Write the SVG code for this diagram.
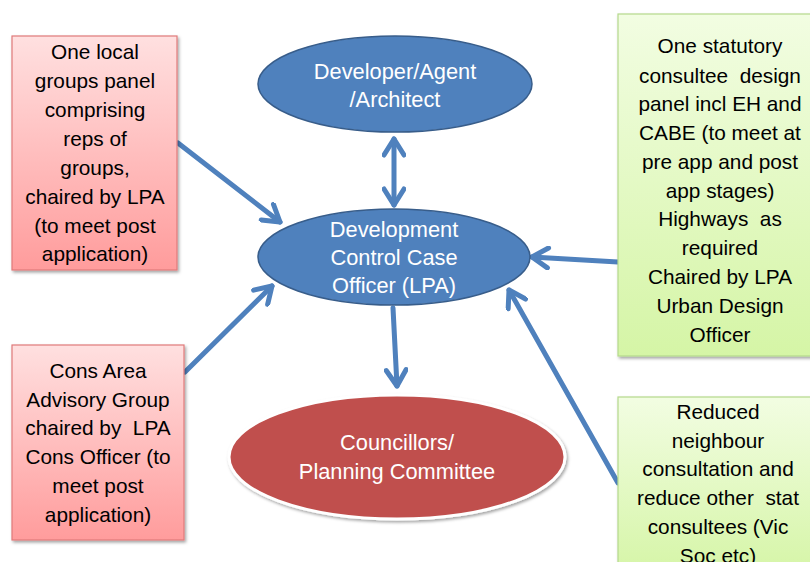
<svg xmlns="http://www.w3.org/2000/svg" width="810" height="562" viewBox="0 0 810 562">
<style>
.t{font-family:"Liberation Sans",Arial,sans-serif;font-size:20.8px;fill:#000;text-anchor:middle;white-space:pre}
.w{font-family:"Liberation Sans",Arial,sans-serif;font-size:21.8px;fill:#fff;text-anchor:middle}
.pink{fill:url(#gp);stroke:#E07A7A;stroke-width:1.2;filter:url(#sh)}
.green{fill:url(#gg);stroke:#B5D98C;stroke-width:1.2;filter:url(#sh)}
.blue{fill:#4F81BD;stroke:#385D8A;stroke-width:1.5}
.con{stroke:#4F81BD;stroke-width:5;fill:none;stroke-linecap:round}
</style>
<defs>
<linearGradient id="gp" x1="0" y1="0" x2="0" y2="1"><stop offset="0" stop-color="#FFE0E0"/><stop offset="1" stop-color="#FF9C9C"/></linearGradient>
<linearGradient id="gg" x1="0" y1="0" x2="0" y2="1"><stop offset="0" stop-color="#F2FDE2"/><stop offset="1" stop-color="#D5F5A6"/></linearGradient>
<filter id="sh" x="-10%" y="-10%" width="125%" height="125%"><feDropShadow dx="1.5" dy="2" stdDeviation="1.5" flood-color="#000" flood-opacity="0.35"/></filter>
<marker id="ah" viewBox="0 0 24 24" refX="21" refY="12" markerWidth="24" markerHeight="24" markerUnits="userSpaceOnUse" orient="auto-start-reverse">
<path d="M5,2 L21,12 L5,22" fill="none" stroke="#4F81BD" stroke-width="5" stroke-linecap="round" stroke-linejoin="round"/>
</marker>
</defs>

<g id="connectors">
<line class="con" x1="178" y1="143" x2="280" y2="222" marker-end="url(#ah)"/>
<line class="con" x1="185" y1="372" x2="272" y2="286" marker-end="url(#ah)"/>
<line class="con" x1="394" y1="139" x2="394" y2="205" marker-start="url(#ah)" marker-end="url(#ah)"/>
<line class="con" x1="393" y1="308" x2="397" y2="386" marker-end="url(#ah)"/>
<line class="con" x1="618" y1="262" x2="532" y2="257" marker-end="url(#ah)"/>
<line class="con" x1="618" y1="483" x2="509" y2="290" marker-end="url(#ah)"/>
</g>

<g id="developer">
<ellipse class="blue" cx="395" cy="84" rx="137" ry="48"/>
<text class="w" x="395" y="79">Developer/Agent</text>
<text class="w" x="395" y="107">/Architect</text>
</g>

<g id="case-officer">
<ellipse class="blue" cx="394" cy="257" rx="136" ry="48"/>
<text class="w" x="394" y="237">Development</text>
<text class="w" x="394" y="265">Control Case</text>
<text class="w" x="394" y="293">Officer (LPA)</text>
</g>

<g id="councillors">
<ellipse cx="397" cy="457" rx="168" ry="62" fill="#C0504D" stroke="#fff" stroke-width="3" filter="url(#sh)"/>
<text class="w" x="397" y="450">Councillors/</text>
<text class="w" x="397" y="479">Planning Committee</text>
</g>

<g id="local-groups">
<rect class="pink" x="12" y="36" width="165" height="234"/>
<text class="t" x="95" y="59">One local</text>
<text class="t" x="95" y="88">groups panel</text>
<text class="t" x="95" y="117">comprising</text>
<text class="t" x="95" y="146">reps of</text>
<text class="t" x="95" y="175">groups,</text>
<text class="t" x="95" y="204">chaired by LPA</text>
<text class="t" x="95" y="233">(to meet post</text>
<text class="t" x="95" y="261">application)</text>
</g>

<g id="cons-area">
<rect class="pink" x="12" y="345" width="172" height="195"/>
<text class="t" x="98" y="378">Cons Area</text>
<text class="t" x="98" y="407">Advisory Group</text>
<text class="t" x="98" y="435">chaired by  LPA</text>
<text class="t" x="98" y="464">Cons Officer (to</text>
<text class="t" x="98" y="493">meet post</text>
<text class="t" x="98" y="522">application)</text>
</g>

<g id="statutory">
<rect class="green" x="618" y="14" width="200" height="342"/>
<text class="t" x="720" y="53">One statutory</text>
<text class="t" x="720" y="83">consultee  design</text>
<text class="t" x="720" y="111">panel incl EH and</text>
<text class="t" x="720" y="140">CABE (to meet at</text>
<text class="t" x="720" y="169">pre app and post</text>
<text class="t" x="720" y="198">app stages)</text>
<text class="t" x="720" y="226">Highways  as</text>
<text class="t" x="720" y="255">required</text>
<text class="t" x="720" y="284">Chaired by LPA</text>
<text class="t" x="720" y="313">Urban Design</text>
<text class="t" x="720" y="342">Officer</text>
</g>

<g id="reduced">
<rect class="green" x="618" y="397" width="200" height="180"/>
<text class="t" x="718" y="419">Reduced</text>
<text class="t" x="718" y="448">neighbour</text>
<text class="t" x="718" y="476">consultation and</text>
<text class="t" x="718" y="505">reduce other  stat</text>
<text class="t" x="718" y="534">consultees (Vic</text>
<text class="t" x="718" y="563">Soc etc)</text>
</g>
</svg>
